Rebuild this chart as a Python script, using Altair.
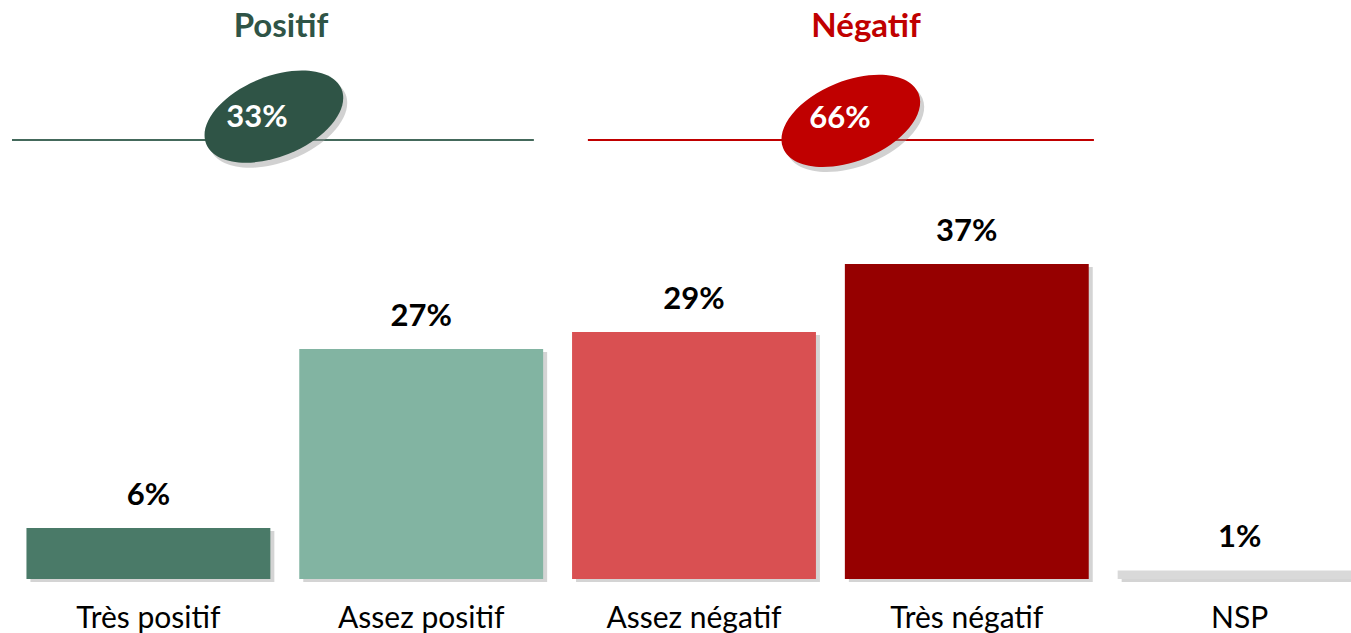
import altair as alt
import pandas as pd

# ---- data ----
categories = ["Très positif", "Assez positif", "Assez négatif", "Très négatif", "NSP"]
values = [6, 27, 29, 37, 1]
value_labels = ["6%", "27%", "29%", "37%", "1%"]
bar_colors = ["#4a7a68", "#82b4a2", "#d95052", "#960000", "#d9d9d9"]

groups = ["Positif", "Négatif"]
group_totals = ["33%", "66%"]
group_colors = ["#2f5446", "#c00000"]
group_line_colors = ["#44695b", "#c00000"]
# header positions expressed in "category slot" units (0..5) and in % units of the bar axis
group_title_x = [0.986, 3.131]
group_line_start = [0.0, 2.111]
group_line_end = [1.913, 3.966]
group_badge_x = [0.960, 3.075]
group_badge_y = [54.3, 53.8]
group_total_x = [0.898, 3.035]
group_total_y = [53.1, 53.0]
header_title_y = 63.65
header_line_y = 51.56

FONT = "Lato"
Y_DOMAIN = [0, 68]
X_RANGE = [0, 1364]

bars_df = pd.DataFrame({"cat": categories, "val": values, "lab": value_labels})
head_df = pd.DataFrame({
    "grp": groups, "tot": group_totals,
    "tx": group_title_x, "ty": [header_title_y] * 2,
    "lx": group_line_start, "lx2": group_line_end, "ly": [header_line_y] * 2,
    "bx": group_badge_x, "by": group_badge_y,
    "px": group_total_x, "py": group_total_y,
})

yscale = alt.Scale(domain=Y_DOMAIN)
xband = alt.X("cat:N", sort=categories,
              scale=alt.Scale(range=X_RANGE, paddingInner=0.106, paddingOuter=0.053),
              axis=alt.Axis(title=None, domain=False, ticks=False, tickSize=0, labelAngle=0,
                            labelFont=FONT, labelFontSize=30, labelColor="#000000",
                            labelBaseline="alphabetic", labelPadding=48, grid=False))
yq = alt.Y("val:Q", scale=yscale, axis=None)
col = alt.Color("cat:N", scale=alt.Scale(domain=categories, range=bar_colors), legend=None)

base = alt.Chart(bars_df)
shadow = base.mark_bar(color="#b0b0b0", opacity=0.55, xOffset=4, yOffset=3).encode(x=xband, y=yq)
bars = base.mark_bar().encode(x=xband, y=yq, color=col)
vlabels = base.mark_text(font=FONT, fontSize=31, fontWeight="bold", color="#000000",
                         baseline="alphabetic", dy=-23).encode(x=xband, y=yq, text="lab:N")

bar_layer = alt.layer(shadow, bars, vlabels)

hx = lambda f: alt.X(f"{f}:Q", scale=alt.Scale(domain=[0, 5], range=X_RANGE), axis=None)
hy = lambda f: alt.Y(f"{f}:Q", scale=yscale, axis=None)
gcol = alt.Color("grp:N", scale=alt.Scale(domain=groups, range=group_colors), legend=None)
lstroke = alt.Stroke("grp:N", scale=alt.Scale(domain=groups, range=group_line_colors), legend=None)

hbase = alt.Chart(head_df)
lines = hbase.mark_rule(strokeWidth=2).encode(x=hx("lx"), x2="lx2:Q", y=hy("ly"), stroke=lstroke)
ELLIPSE = "M -1 0 A 1 0.548 0 1 1 1 0 A 1 0.548 0 1 1 -1 0 Z"
badge_shadow = hbase.mark_point(shape=ELLIPSE, size=146 * 146, filled=True, angle=338,
                                color="#9a9a9a", opacity=0.45, xOffset=4, yOffset=5,
                                strokeWidth=0).encode(x=hx("bx"), y=hy("by"))
badges = hbase.mark_point(shape=ELLIPSE, size=146 * 146, filled=True, angle=338,
                          opacity=1, strokeWidth=0).encode(x=hx("bx"), y=hy("by"), color=gcol)
totals = hbase.mark_text(font=FONT, fontSize=31, fontWeight="bold", color="#ffffff",
                         baseline="alphabetic").encode(x=hx("px"), y=hy("py"), text="tot:N")
titles = hbase.mark_text(font=FONT, fontSize=33, fontWeight="bold",
                         baseline="alphabetic").encode(x=hx("tx"), y=hy("ty"), text="grp:N", color=gcol)

head_layer = alt.layer(lines, badge_shadow, badges, totals, titles)

chart = alt.layer(head_layer, bar_layer).resolve_scale(
    x="independent", color="independent", stroke="independent").properties(
    width=1339, height=579,
    autosize=alt.AutoSizeParams(type="none"),
    padding={"left": 12, "top": 0, "right": 0, "bottom": 54},
    background="#ffffff",
).configure_view(stroke=None)

chart.save("out.html", embed_options={"renderer": "svg", "actions": False})
